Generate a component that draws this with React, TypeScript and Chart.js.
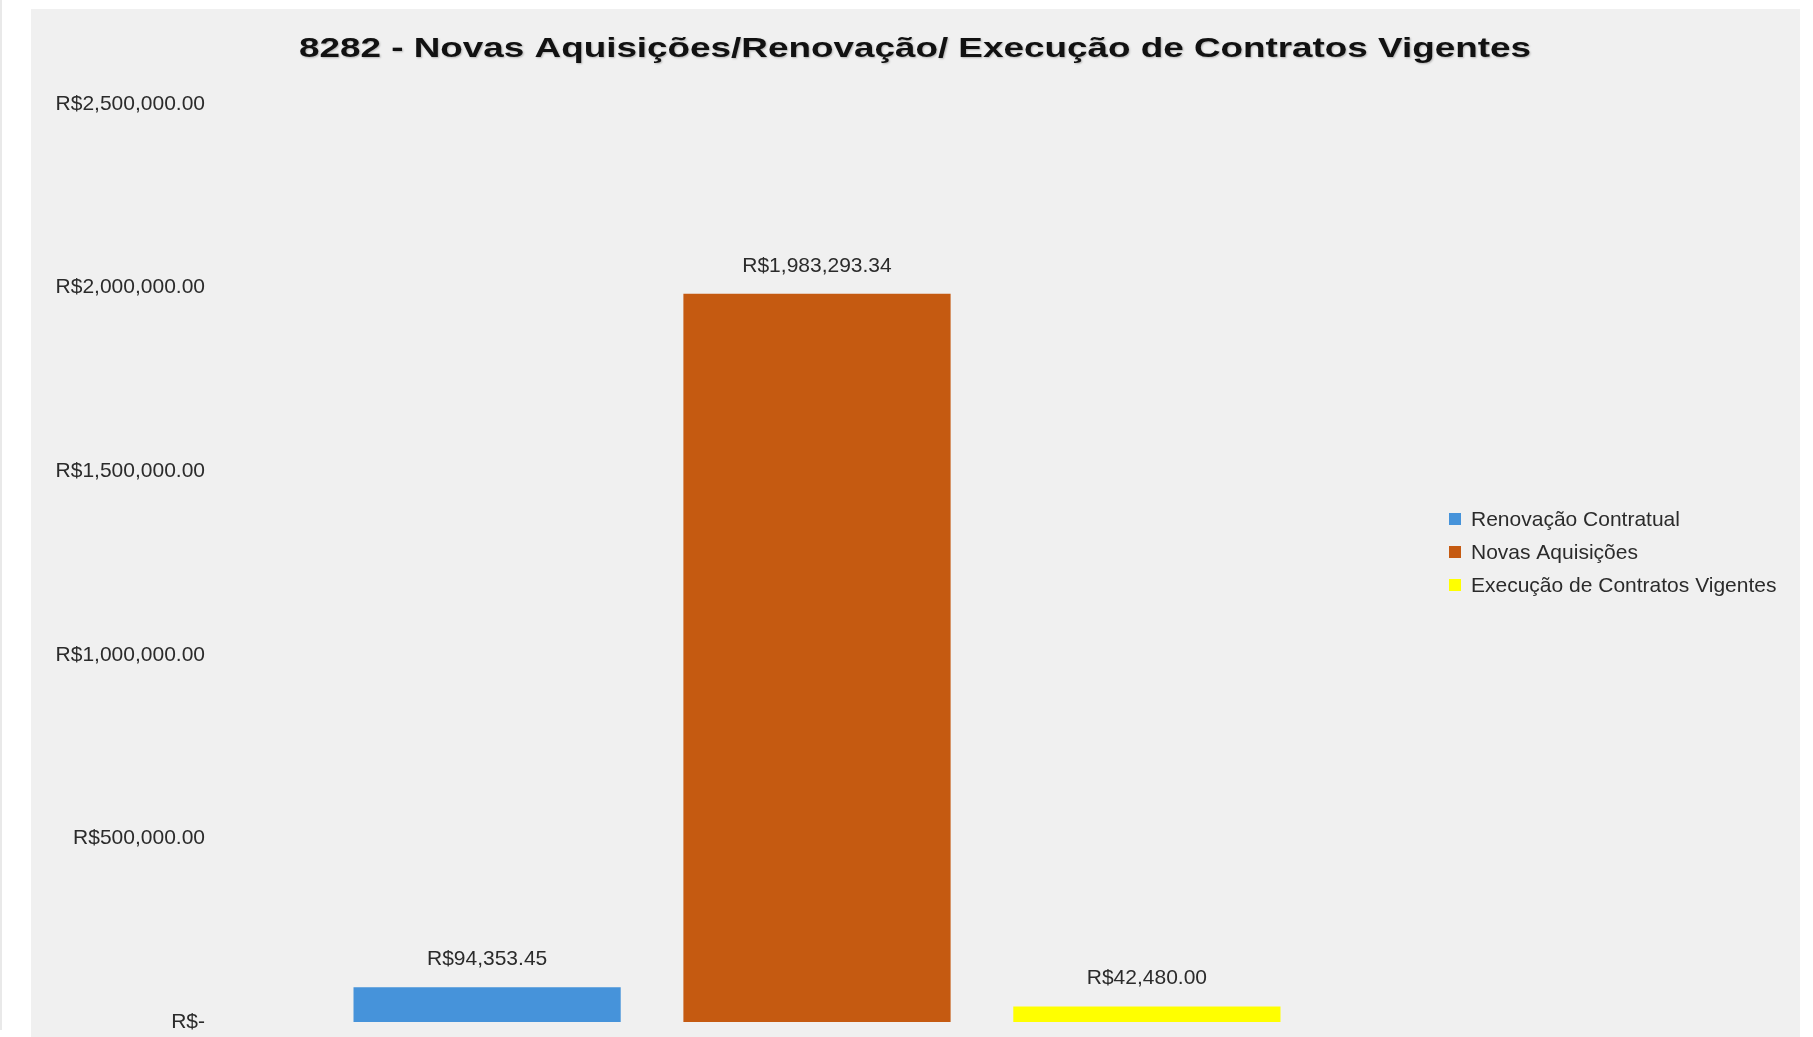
import React, { useEffect, useRef } from "react";
import { Chart, registerables } from "chart.js";

Chart.register(...registerables);

const TITLE = "8282 - Novas Aquisições/Renovação/ Execução de Contratos Vigentes";
const categories = [""];
const seriesNames = ["Renovação Contratual", "Novas Aquisições", "Execução de Contratos Vigentes"];
const seriesValues = [94353.45, 1983293.34, 42480.0];
const seriesColors = ["#4693DA", "#C55A11", "#FFFF00"];
const yTicks = [0, 500000, 1000000, 1500000, 2000000, 2500000];

const FONT = "'Liberation Sans', Arial, sans-serif";
const TEXT_COLOR = "#2b2b2b";

const fmtMoney = (v: number) =>
  v === 0
    ? "R$-"
    : "R$" + v.toLocaleString("en-US", { minimumFractionDigits: 2, maximumFractionDigits: 2 });

const backgroundPlugin = {
  id: "bgPanel",
  beforeDraw(chart: any) {
    const { ctx, width, height } = chart;
    ctx.save();
    ctx.fillStyle = "#ffffff";
    ctx.fillRect(0, 0, width, height);
    ctx.fillStyle = "#e9e9e9";
    ctx.fillRect(0, 0, 2, 1030);
    ctx.fillStyle = "#f0f0f0";
    ctx.fillRect(31, 9, 1769, height - 9);
    ctx.restore();
  },
};

const titlePlugin = {
  id: "stretchedTitle",
  afterDraw(chart: any) {
    const { ctx } = chart;
    ctx.save();
    ctx.font = `bold 28px ${FONT}`;
    ctx.fillStyle = "#111111";
    ctx.textBaseline = "middle";
    ctx.textAlign = "center";
    const w = ctx.measureText(TITLE).width;
    const target = 1232;
    const sx = target / w;
    ctx.translate(915, 49);
    ctx.scale(sx, 1);
    ctx.shadowColor = "rgba(0,0,0,0.25)";
    ctx.shadowBlur = 2;
    ctx.shadowOffsetX = 1;
    ctx.shadowOffsetY = 1;
    ctx.fillText(TITLE, 0, 0);
    ctx.restore();
  },
};

const valueLabelPlugin = {
  id: "valueLabels",
  afterDatasetsDraw(chart: any) {
    const { ctx } = chart;
    ctx.save();
    ctx.font = `21px ${FONT}`;
    ctx.fillStyle = TEXT_COLOR;
    ctx.textAlign = "center";
    ctx.textBaseline = "middle";
    chart.data.datasets.forEach((ds: any, i: number) => {
      const meta = chart.getDatasetMeta(i);
      meta.data.forEach((bar: any, j: number) => {
        ctx.fillText(fmtMoney(ds.data[j]), bar.x, bar.y - 28);
      });
    });
    ctx.restore();
  },
};

const legendPlugin = {
  id: "customLegend",
  afterDraw(chart: any) {
    const { ctx, chartArea } = chart;
    ctx.save();
    ctx.font = `21px ${FONT}`;
    ctx.textBaseline = "middle";
    ctx.textAlign = "left";
    const boxX = chartArea.right + 30;
    const y0 = (chartArea.top + chartArea.bottom) / 2 - 44;
    chart.data.datasets.forEach((ds: any, i: number) => {
      const y = y0 + i * 33;
      ctx.fillStyle = ds.backgroundColor;
      ctx.fillRect(boxX, y - 6, 12, 12);
      ctx.fillStyle = TEXT_COLOR;
      ctx.fillText(ds.label, boxX + 22, y + 1);
    });
    ctx.restore();
  },
};

export default function App() {
  const ref = useRef<HTMLCanvasElement | null>(null);

  useEffect(() => {
    if (!ref.current) return;
    const chart = new Chart(ref.current, {
      type: "bar",
      data: {
        labels: categories,
        datasets: seriesNames.map((name, i) => ({
          label: name,
          data: [seriesValues[i]],
          backgroundColor: seriesColors[i],
          borderWidth: 0,
          categoryPercentage: 0.822,
          barPercentage: 0.81,
        })),
      },
      options: {
        responsive: false,
        animation: false,
        devicePixelRatio: 1,
        layout: { padding: { left: 31, right: 394, top: 104, bottom: 15 } },
        plugins: {
          legend: { display: false },
          title: { display: false },
          tooltip: { enabled: false },
        },
        scales: {
          x: { display: false },
          y: {
            min: 0,
            max: 2500000,
            afterBuildTicks(scale: any) {
              scale.ticks = yTicks.map((v) => ({ value: v }));
            },
            afterFit(scale: any) {
              scale.width = 184;
              scale.paddingTop = 0;
              scale.paddingBottom = 0;
            },
            grid: { display: false, drawTicks: false },
            border: { display: false },
            ticks: {
              padding: 10,
              color: TEXT_COLOR,
              font: { family: FONT, size: 21 },
              callback: (v: any) => fmtMoney(Number(v)),
            },
          },
        },
      },
      plugins: [backgroundPlugin, titlePlugin, valueLabelPlugin, legendPlugin],
    });
    return () => chart.destroy();
  }, []);

  return (
    <div style={{ position: "fixed", left: 0, top: 0, width: 1813, height: 1037 }}>
      <canvas ref={ref} width={1813} height={1037} style={{ display: "block" }} />
    </div>
  );
}
